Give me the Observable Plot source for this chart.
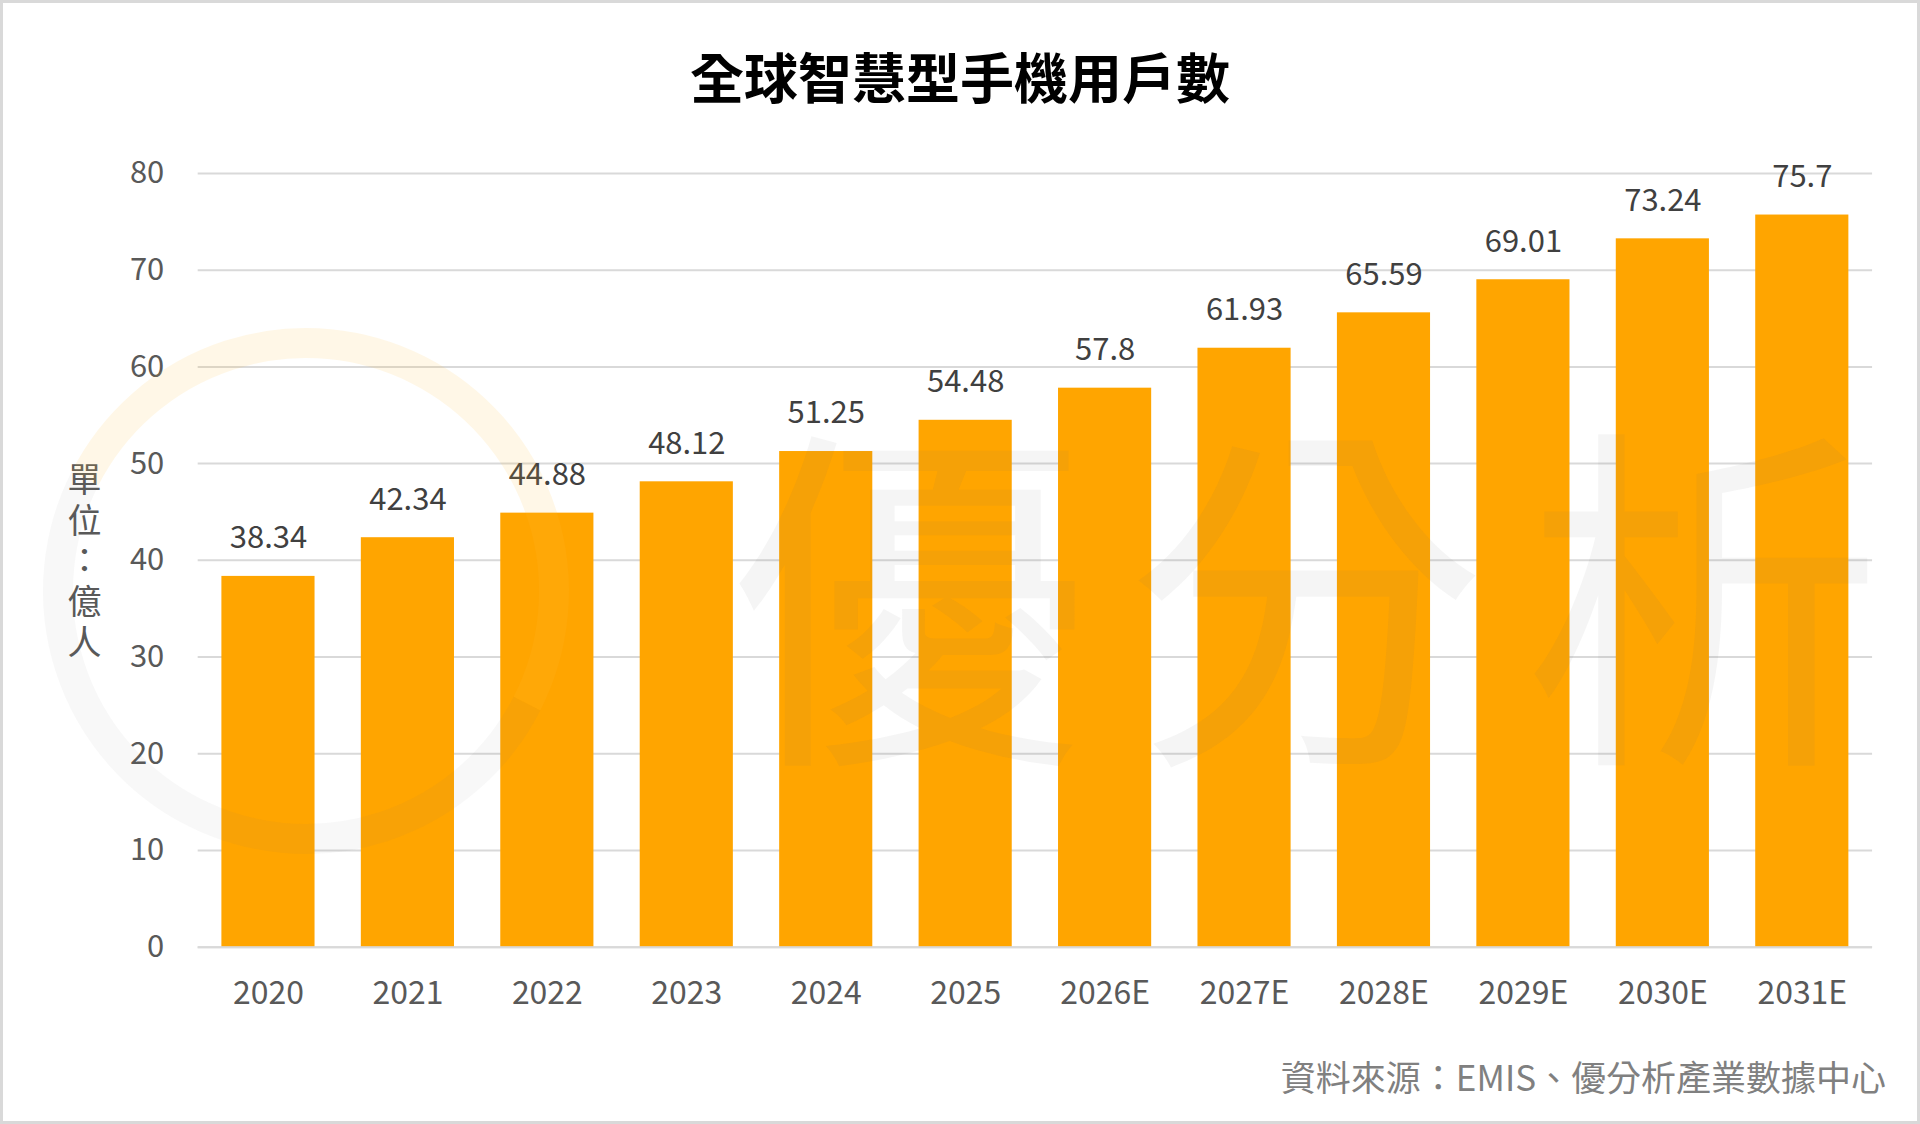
<!DOCTYPE html>
<html>
<head>
<meta charset="utf-8">
<script src="https://cdn.jsdelivr.net/npm/d3@7"></script>
<script src="https://cdn.jsdelivr.net/npm/@observablehq/plot@0.6"></script>
<style>
  html, body { margin: 0; padding: 0; background: #fff; }
  #frame {
    position: relative; width: 1920px; height: 1124px; box-sizing: border-box;
    border: 3px solid #d9d9d9; background: #fff; overflow: hidden;
    font-family: "Noto Sans CJK TC", "Noto Sans", sans-serif;
  }
  #title {
    position: absolute; left: 0; top: 38px; width: 100%; height: 70px; line-height: 70px;
    text-align: center; font-size: 54px; font-weight: 700; color: #000;
  }
  #chart { position: absolute; left: -3px; top: 137px; }
  #caption {
    position: absolute; right: 31px; top: 1050px; height: 46px; line-height: 46px;
    font-size: 35px; color: #808080;
  }
  #wm { position: absolute; left: -3px; top: -3px; pointer-events: none; }
</style>
</head>
<body>
<div id="frame">
  <div id="title"></div>
  <div id="chart"></div>
  <div id="caption"></div>
  <canvas id="wm" width="1920" height="1124"></canvas>
</div>
<script>
const titleText = "全球智慧型手機用戶數";
const captionText = "資料來源：EMIS、優分析產業數據中心";
const yLabel = "單\n位\n：\n億\n人";
const years = ["2020", "2021", "2022", "2023", "2024", "2025", "2026E", "2027E", "2028E", "2029E", "2030E", "2031E"];
const users = [38.34, 42.34, 44.88, 48.12, 51.25, 54.48, 57.8, 61.93, 65.59, 69.01, 73.24, 75.7];
const yTicks = [0, 10, 20, 30, 40, 50, 60, 70, 80];

document.getElementById("title").textContent = titleText;
document.getElementById("caption").textContent = captionText;

const data = years.map((year, i) => ({year, value: users[i]}));

const chart = Plot.plot({
  width: 1920,
  height: 900,
  marginTop: 33,
  marginBottom: 92,
  marginLeft: 198,
  marginRight: 45,
  style: {fontFamily: "'Noto Sans CJK TC', 'Noto Sans', sans-serif", color: "#595959", background: "transparent"},
  x: {domain: years, paddingInner: 0.332, paddingOuter: 0.17, round: false, label: null},
  y: {domain: [0, 80], label: null},
  marks: [
    Plot.gridY(yTicks, {stroke: "#d9d9d9", strokeOpacity: 1, strokeWidth: 2}),
    Plot.barY(data, {x: "year", y: "value", fill: "#FFA500"}),
    Plot.ruleY([0], {stroke: "#d9d9d9", strokeWidth: 2}),
    Plot.text(data, {x: "year", y: "value", text: d => String(d.value), dy: -38, lineAnchor: "middle", fontSize: 31, fill: "#404040"}),
    Plot.axisY(yTicks, {tickSize: 0, tickPadding: 34, fontSize: 31, label: null}),
    Plot.axisX({tickSize: 0, tickPadding: 34, fontSize: 32, label: null}),
    Plot.text([yLabel], {frameAnchor: "left", dx: -114, fontSize: 34, lineHeight: 1.2, textAnchor: "middle", fill: "#595959"})
  ]
});
document.getElementById("chart").appendChild(chart);

// faint logo watermark (drawn as an image layer, as in the reference)
const ctx = document.getElementById("wm").getContext("2d");
ctx.lineWidth = 30;
ctx.strokeStyle = "rgba(255,190,60,0.12)";
ctx.beginPath();
ctx.arc(306, 591, 248, Math.PI * 1.15, Math.PI * 2.15);
ctx.stroke();
ctx.strokeStyle = "rgba(120,120,120,0.05)";
ctx.beginPath();
ctx.arc(306, 591, 248, Math.PI * 0.15, Math.PI * 1.15);
ctx.stroke();
ctx.fillStyle = "rgba(110,110,110,0.065)";
ctx.font = "360px 'Noto Sans CJK TC'";
ctx.textAlign = "center";
ctx.textBaseline = "middle";
["優", "分", "析"].forEach((c, i) => ctx.fillText(c, 909 + i * 397, 600));
</script>
</body>
</html>
